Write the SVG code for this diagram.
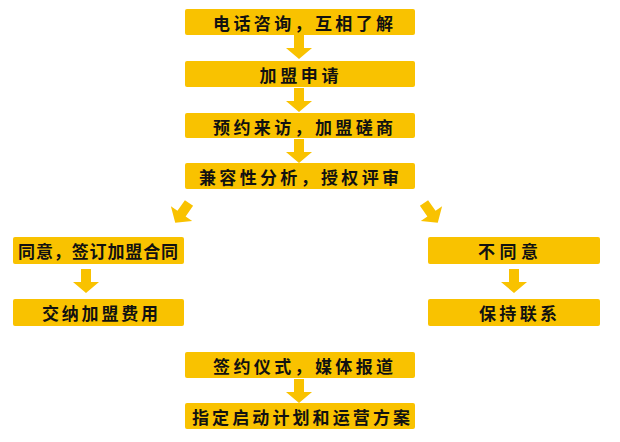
<svg xmlns="http://www.w3.org/2000/svg" width="620" height="442" viewBox="0 0 620 442">
<defs>
<style>
.box{fill:#F9C200;}
.t{font-family:"Noto Sans CJK SC","Noto Sans",sans-serif;font-weight:bold;font-size:17px;fill:#111;text-anchor:middle;dominant-baseline:central;}
.arr{fill:#F9C200;}
</style>
<path id="down" d="M-5,0 H5 V13 H13 L0,24 L-13,13 H-5 Z"/>
</defs>
<rect width="620" height="442" fill="#fff"/>
<g id="connectors" class="arr">
<use href="#down" x="299" y="35"/>
<use href="#down" x="299" y="88"/>
<use href="#down" x="299" y="139"/>
<use href="#down" transform="translate(189,203) rotate(35)"/>
<use href="#down" transform="translate(424,203) rotate(-35)"/>
<use href="#down" x="86" y="269"/>
<use href="#down" x="514" y="269"/>
<use href="#down" x="299" y="379"/>
</g>
<g id="n1"><rect class="box" x="185" y="9" width="230" height="26" rx="2"/><text class="t" x="303" y="22" textLength="180" lengthAdjust="spacing">电话咨询，互相了解</text></g>
<g id="n2"><rect class="box" x="185" y="61" width="230" height="26" rx="2"/><text class="t" x="299" y="74" textLength="79" lengthAdjust="spacing">加盟申请</text></g>
<g id="n3"><rect class="box" x="185" y="113" width="230" height="25" rx="2"/><text class="t" x="303" y="126" textLength="180" lengthAdjust="spacing">预约来访，加盟磋商</text></g>
<g id="n4"><rect class="box" x="185" y="163" width="230" height="26" rx="2"/><text class="t" x="299" y="176" textLength="200" lengthAdjust="spacing">兼容性分析，授权评审</text></g>
<g id="n5"><rect class="box" x="13" y="237" width="171" height="27" rx="2"/><text class="t" x="98" y="250" textLength="160" lengthAdjust="spacing">同意，签订加盟合同</text></g>
<g id="n6"><rect class="box" x="13" y="299" width="171" height="27" rx="2"/><text class="t" x="100" y="312" textLength="116" lengthAdjust="spacing">交纳加盟费用</text></g>
<g id="n7"><rect class="box" x="428" y="237" width="172" height="27" rx="2"/><text class="t" x="508" y="250" textLength="60" lengthAdjust="spacing">不同意</text></g>
<g id="n8"><rect class="box" x="428" y="299" width="172" height="27" rx="2"/><text class="t" x="518" y="312" textLength="78" lengthAdjust="spacing">保持联系</text></g>
<g id="n9"><rect class="box" x="185" y="352" width="230" height="26" rx="2"/><text class="t" x="303" y="365" textLength="180" lengthAdjust="spacing">签约仪式，媒体报道</text></g>
<g id="n10"><rect class="box" x="185" y="403" width="230" height="26" rx="2"/><text class="t" x="301" y="416" textLength="218" lengthAdjust="spacing">指定启动计划和运营方案</text></g>
</svg>
